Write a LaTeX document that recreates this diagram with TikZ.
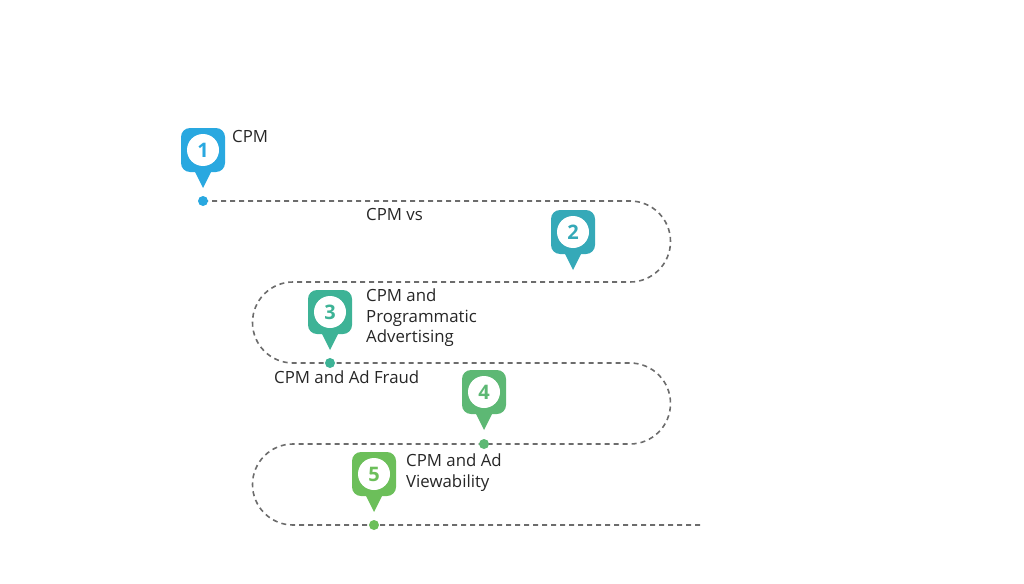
\documentclass[tikz,border=0pt]{standalone}
\usepackage{fontspec}
\setmainfont{Open Sans}
\begin{document}
\begin{tikzpicture}[x=1pt,y=-1pt,
  path/.style={draw=gray!85!black,line width=1.6pt,dash pattern=on 5pt off 4pt},
  lbl/.style={anchor=north west,font=\fontsize{16.8}{20.5}\selectfont,align=left,inner sep=0pt,text=black!85},
  dot/.style={circle,fill=#1,minimum size=10pt,inner sep=0pt}]
\useasboundingbox (0,0) rectangle (1024,583);
\definecolor{c1}{HTML}{29A8E0}
\definecolor{c2}{HTML}{35A9B8}
\definecolor{c3}{HTML}{3DB396}
\definecolor{c4}{HTML}{5DB874}
\definecolor{c5}{HTML}{6CBF5A}
\newcommand\marker[4]{% name, x, y(center), color
  \fill[#4,rounded corners=9pt] (#2-22,#3-22) rectangle (#2+22,#3+22);
  \fill[#4] (#2-9,#3+20) -- (#2+9,#3+20) -- (#2,#3+38) -- cycle;
  \node[circle,fill=white,minimum size=32pt,inner sep=0pt,text=#4,font=\bfseries\fontsize{20}{20}\selectfont] (#1) at (#2,#3) {\markernum};}
\coordinate (s) at (203,201);
\coordinate (e) at (700,525);
\draw[path] (s) -- (630,201) arc[start angle=-90,end angle=90,radius=40.5] -- (293,282)
  arc[start angle=-90,end angle=-270,radius=40.5] -- (630,363)
  arc[start angle=-90,end angle=90,radius=40.5] -- (293,444)
  arc[start angle=-90,end angle=-270,radius=40.5] -- (e);
\def\markernum{1}\marker{m1}{203}{150}{c1}
\def\markernum{2}\marker{m2}{573}{232}{c2}
\def\markernum{3}\marker{m3}{330}{312}{c3}
\def\markernum{4}\marker{m4}{484}{392}{c4}
\def\markernum{5}\marker{m5}{374}{474}{c5}
\node[dot=c1] (d1) at (s) {};
\node[dot=c3] (d3) at (330,363) {};
\node[dot=c4] (d4) at (484,444) {};
\node[dot=c5] (d5) at (374,525) {};
\node[lbl] (t1) at (232,130) {CPM};
\node[lbl] (t2) at (366,208) {CPM vs};
\node[lbl] (t3) at (366,289) {CPM and\\Programmatic\\Advertising};
\node[lbl] (t4) at (274,371) {CPM and Ad Fraud};
\node[lbl] (t5) at (406,454) {CPM and Ad\\Viewability};
\end{tikzpicture}
\end{document}
